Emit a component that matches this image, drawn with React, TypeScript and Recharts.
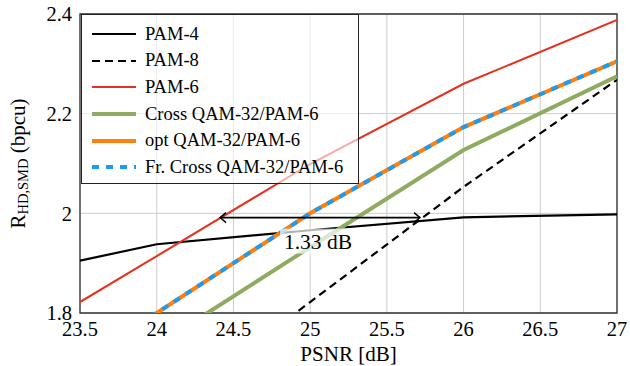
import React from "react";
import {
  LineChart, Line, XAxis, YAxis, CartesianGrid, Legend,
  ReferenceArea, ReferenceLine,
} from "recharts";

const psnr = [23.5, 24, 25, 26, 27];
const pam4 = [1.905, 1.938, 1.966, 1.992, 1.998];
const pam8 = [1.476, 1.591, 1.822, 2.053, 2.268];
const pam6 = [1.822, 1.914, 2.099, 2.26, 2.388];
const crossQam = [1.637, 1.735, 1.932, 2.127, 2.275];
const optQam = [1.7, 1.8, 2.0, 2.173, 2.305];
const frCrossQam = [1.7, 1.8, 2.0, 2.173, 2.305];

const xTicks = [23.5, 24, 24.5, 25, 25.5, 26, 26.5, 27];
const yTicks = [1.8, 2, 2.2, 2.4];

// the 1.33 dB gap between PAM-6 and PAM-8 at ~1.99 bpcu
const gapFrom = 24.413;
const gapTo = 25.716;
const gapLevel = 1.9914;
const gapLabel = "1.33 dB";

const data = psnr.map((x, i) => ({
  x,
  pam4: pam4[i],
  pam8: pam8[i],
  pam6: pam6[i],
  cross: crossQam[i],
  opt: optQam[i],
  fr: frCrossQam[i],
}));

const FONT = "'Liberation Serif', 'Times New Roman', serif";

const SERIES = [
  { key: "pam4", name: "PAM-4", color: "#000000", width: 2.2, dash: undefined },
  { key: "pam8", name: "PAM-8", color: "#000000", width: 2.2, dash: "8 5" },
  { key: "pam6", name: "PAM-6", color: "#e3321e", width: 2, dash: undefined },
  { key: "cross", name: "Cross QAM-32/PAM-6", color: "#8fab62", width: 4, dash: undefined },
  { key: "opt", name: "opt QAM-32/PAM-6", color: "#ff7f0e", width: 4, dash: undefined },
  { key: "fr", name: "Fr. Cross QAM-32/PAM-6", color: "#1e9bf0", width: 4, dash: "7 7" },
];

function LegendBox() {
  return (
    <div style={{
      width: 278, height: 170, boxSizing: "border-box", border: "1px solid #222",
      background: "rgba(255,255,255,0.6)", fontFamily: FONT, fontSize: 18.5, color: "#000",
      paddingTop: 6,
    }}>
      {SERIES.map((s) => (
        <div key={s.key} style={{ display: "flex", alignItems: "center", height: 26.6 }}>
          <svg width={54} height={10} style={{ marginLeft: 9, flex: "none" }}>
            <line x1={1} y1={5} x2={45} y2={5} stroke={s.color} strokeWidth={s.width}
              strokeDasharray={s.dash} />
          </svg>
          <span style={{ whiteSpace: "nowrap" }}>{s.name}</span>
        </div>
      ))}
    </div>
  );
}

function GapArrow(props: any) {
  const { x1, y1, x2 } = props;
  const mid = (x1 + x2) / 2;
  const h = 6;
  return (
    <g>
      <line x1={x1} y1={y1} x2={x2} y2={y1} stroke="#000" strokeWidth={1.6} />
      <polyline points={`${x1 + h},${y1 - 5} ${x1},${y1} ${x1 + h},${y1 + 5}`}
        fill="none" stroke="#000" strokeWidth={1.4} />
      <polyline points={`${x2 - h},${y1 - 5} ${x2},${y1} ${x2 - h},${y1 + 5}`}
        fill="none" stroke="#000" strokeWidth={1.4} />
      <rect x={mid - 40} y={y1 + 11} width={80} height={25} fill="#fff" fillOpacity={0.7} />
      <text x={mid - 2} y={y1 + 24} textAnchor="middle" dominantBaseline="central"
        fontFamily={FONT} fontSize={21.5} fill="#000">{gapLabel}</text>
    </g>
  );
}

function YLabel(props: any) {
  const vb = props.viewBox || { y: 14, height: 299 };
  const cy = vb.y + vb.height / 2;
  const x = 18;
  return (
    <text x={x} y={cy} transform={`rotate(-90, ${x}, ${cy})`} textAnchor="middle"
      dominantBaseline="central" fontFamily={FONT} fontSize={21} fill="#000">
      R<tspan dy={5} fontSize={14.5}>HD,SMD</tspan><tspan dy={-5}> (bpcu)</tspan>
    </text>
  );
}

function XLabel(props: any) {
  const vb = props.viewBox || { x: 80, y: 313, width: 537 };
  return (
    <text x={vb.x + vb.width / 2} y={vb.y + 41} textAnchor="middle" dominantBaseline="central"
      fontFamily={FONT} fontSize={21} fill="#000">PSNR [dB]</text>
  );
}

export default function App() {
  const tick = { fontSize: 20.5, fill: "#000", fontFamily: FONT };
  return (
    <div style={{ position: "absolute", left: 0, top: 0, background: "#fff" }}>
      <LineChart width={630} height={366} data={data}
        margin={{ top: 14, right: 13, bottom: 23, left: 20 }}>
        <CartesianGrid stroke="#cccccc" strokeWidth={1} />
        <XAxis dataKey="x" type="number" domain={[23.5, 27]} ticks={xTicks} allowDataOverflow
          height={30} tick={tick} tickLine={false} axisLine={false}
          label={{ content: (p: any) => <XLabel {...p} /> }} />
        <YAxis type="number" domain={[1.8, 2.4]} ticks={yTicks} allowDataOverflow
          width={60} tick={tick} tickLine={false} axisLine={false}
          label={{ content: (p: any) => <YLabel {...p} /> }} />
        {SERIES.map((s) => (
          <Line key={s.key} dataKey={s.key} name={s.name} type="linear" stroke={s.color}
            strokeWidth={s.width} strokeDasharray={s.dash} dot={false} activeDot={false}
            isAnimationActive={false} />
        ))}
        <ReferenceLine segment={[{ x: gapFrom, y: gapLevel }, { x: gapTo, y: gapLevel }]}
          shape={(p: any) => <GapArrow {...p} />} />
        <ReferenceArea x1={23.5} x2={27} y1={1.8} y2={2.4} fill="none" fillOpacity={0}
          stroke="#333" strokeWidth={1.3} />
        <Legend layout="vertical" align="center" verticalAlign="middle"
          content={() => <LegendBox />}
          wrapperStyle={{ left: 81, top: 14, width: 278, height: 170 }} />
      </LineChart>
    </div>
  );
}
